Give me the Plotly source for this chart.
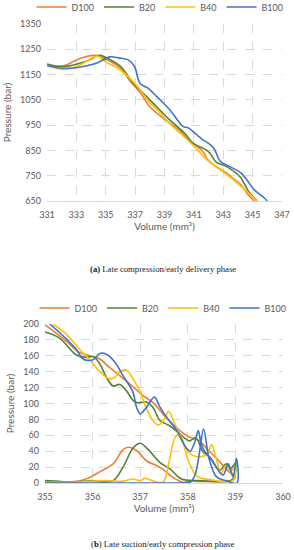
import plotly.graph_objects as go

names = ["D100", "B20", "B40", "B100"]
colors = ["#ED7D31", "#548235", "#FFC000", "#4472C4"]

# ---- (a) Late compression / early delivery ----
a_D100_v = [331.0, 331.9, 332.36, 333.05, 333.73, 334.2, 334.6, 335.3, 336.0, 336.65, 337.4, 338.0, 339.37, 340.1, 340.73, 341.0, 341.7, 341.87, 342.5, 343.23, 343.5, 344.2, 344.6, 345.1]
a_D100_p = [1189, 1183, 1189, 1209, 1222, 1226, 1220, 1203, 1176, 1125, 1075, 1023, 957, 925, 885, 876, 839, 818, 787, 760, 747, 714, 682, 650]
a_B20_v = [331.0, 331.7, 332.36, 333.3, 333.95, 334.4, 334.64, 335.3, 336.0, 336.87, 337.4, 338.24, 339.37, 340.4, 340.96, 341.8, 342.1, 342.5, 343.23, 344.14, 344.7, 345.3]
a_B20_p = [1192, 1183, 1183, 1196, 1209, 1225, 1226, 1209, 1183, 1116, 1085, 1036, 970, 916, 878, 853, 839, 805, 786, 746, 690, 650]
a_B40_v = [331.0, 332.1, 333.05, 333.7, 334.3, 334.5, 335.1, 335.8, 336.5, 337.2, 337.9, 338.6, 339.37, 339.8, 340.8, 341.9, 342.8, 343.7, 344.6, 345.3]
a_B40_p = [1187, 1170, 1183, 1203, 1222, 1222, 1196, 1176, 1143, 1100, 1045, 1005, 955, 932, 879, 813, 774, 734, 688, 650]
a_B100_v = [331.0, 331.9, 332.8, 333.7, 334.4, 334.85, 335.3, 335.9, 336.5, 336.95, 337.33, 337.9, 338.47, 339.37, 340.28, 340.6, 341.2, 341.64, 341.9, 342.36, 342.8, 343.46, 344.2, 344.6, 345.1, 345.8, 346.0]
a_B100_p = [1185, 1176, 1176, 1185, 1196, 1209, 1220, 1216, 1209, 1183, 1116, 1095, 1063, 1010, 944, 940, 912, 891, 882, 859, 807, 786, 761, 734, 695, 662, 650]

# ---- (b) Late suction / early compression ----
b_D100_v = [355.0, 355.2, 355.45, 355.7, 355.94, 356.15, 356.36, 356.57, 356.85, 357.06, 357.27, 357.55, 357.83, 358.03, 358.24, 358.45, 358.65, 358.85, 359.0,
            358.9, 358.5, 358.0, 357.9, 357.69, 357.41, 357.13, 356.92, 356.75, 356.64, 356.43, 356.15, 355.9, 355.66, 355.3, 355.0]
b_D100_p = [199, 190, 178, 165, 160, 156, 145, 135, 121, 110, 101, 82, 66, 58, 53, 40, 28, 15, 8,
            3, 2, 2, 1, 7, 20, 28, 41, 45, 42, 24, 14, 6, 2, 1, 2]
b_B20_v = [355.0, 355.31, 355.66, 355.87, 356.01, 356.15, 356.29, 356.43, 356.57, 356.71, 356.85, 356.95, 357.13, 357.27, 357.41, 357.62, 357.83, 358.03, 358.17, 358.31, 358.46, 358.67, 358.81, 358.9, 359.0,
           358.95, 358.8, 358.2, 357.87, 357.62, 357.41, 357.2, 357.0, 356.85, 356.64, 356.43, 356.1, 356.0, 355.6, 355.3, 355.0]
b_B20_p = [190, 182, 161, 158, 159, 150, 133, 122, 124, 116, 104, 101, 102, 95, 79, 72, 62, 53, 57, 40, 32, 16, 24, 18, 25,
           5, 2, 3, 5, 18, 26, 40, 50, 44, 20, 3, 2, 3, 1, 2, 3]
b_B40_v = [355.17, 355.45, 355.73, 355.94, 356.15, 356.36, 356.47, 356.57, 356.71, 356.85, 357.0, 357.1, 357.25, 357.38, 357.5, 357.6, 357.7, 357.85, 358.0, 358.2, 358.4, 358.5, 358.6, 358.7, 358.8, 358.9, 359.0,
           358.95, 358.7, 358.5, 358.2, 358.0, 357.83, 357.73, 357.6, 357.48, 357.2, 357.1, 357.0, 356.85, 356.6, 356.3, 355.9, 355.5, 355.0]
b_B40_p = [200, 187, 168, 155, 140, 131, 133, 140, 142, 131, 115, 98, 80, 73, 80, 90, 78, 56, 40, 33, 36, 48, 30, 12, 22, 15, 20,
           3, 2, 4, 8, 30, 62, 57, 25, 1, 4, 6, 3, 5, 2, 3, 2, 1, 1]
b_B100_v = [355.1, 355.38, 355.66, 355.8, 356.01, 356.15, 356.29, 356.47, 356.64, 356.85, 356.92, 357.0, 357.13, 357.3, 357.41, 357.55, 357.76, 357.97, 358.05, 358.15, 358.22, 358.27, 358.35, 358.5, 358.6, 358.74, 358.85, 358.95, 359.02,
            359.03, 358.8, 358.6, 358.45, 358.33, 358.25, 358.15, 358.05, 357.8, 357.0, 356.0, 355.0]
b_B100_p = [200, 185, 168, 156, 155, 163, 162, 152, 135, 114, 96, 87, 95, 108, 96, 83, 67, 44, 40, 52, 66, 52, 40, 30, 20, 10, 24, 8, 31,
            0, 3, 8, 30, 68, 40, 10, 1, 0, 0, 0, 0]

a_sets = [(a_D100_v, a_D100_p), (a_B20_v, a_B20_p), (a_B40_v, a_B40_p), (a_B100_v, a_B100_p)]
b_sets = [(b_D100_v, b_D100_p), (b_B20_v, b_B20_p), (b_B40_v, b_B40_p), (b_B100_v, b_B100_p)]

fig = go.Figure()
for n, c, (v, p) in zip(names, colors, a_sets):
    fig.add_trace(go.Scatter(x=v, y=p, name=n, mode="lines", line=dict(color=c, width=1.6, shape="spline"),
                             xaxis="x", yaxis="y", legend="legend"))
for n, c, (v, p) in zip(names, colors, b_sets):
    fig.add_trace(go.Scatter(x=v, y=p, name=n, mode="lines", line=dict(color=c, width=1.6, shape="spline"),
                             xaxis="x2", yaxis="y2", legend="legend2", cliponaxis=True))

W, H = 294, 550
FONT = "Lato, Noto Sans, sans-serif"
tickfont = dict(family=FONT, size=9, color="#595959")
titlefont = dict(family=FONT, size=10, color="#595959")
xgrid = dict(showgrid=True, gridcolor="#d9d9d9", griddash="dash", gridwidth=1, zeroline=False, ticks="",
             tickfont=tickfont, ticklabelstandoff=5, showline=True, linecolor="#d9d9d9")
ygrid = dict(showgrid=True, gridcolor="#d9d9d9", griddash="dash", gridwidth=1, zeroline=False, ticks="",
             tickfont=tickfont, ticklabelstandoff=5)
legfont = dict(family=FONT, size=9, color="#595959")

fig.update_layout(
    width=W, height=H, margin=dict(l=0, r=0, t=0, b=0, autoexpand=False),
    paper_bgcolor="white", plot_bgcolor="white",
    xaxis=dict(domain=[47 / W, 282 / W], range=[331, 347], tick0=331, dtick=2, anchor="y",
               title=dict(text="Volume (mm³)", font=titlefont, standoff=4), **xgrid),
    yaxis=dict(domain=[1 - 201 / H, 1 - 24 / H], range=[650, 1350], tick0=650, dtick=100, anchor="x",
               title=dict(text="Pressure (bar)", font=titlefont, standoff=6), **ygrid),
    xaxis2=dict(domain=[45 / W, 283 / W], range=[355, 360], tick0=355, dtick=1, anchor="y2",
                title=dict(text="Volume (mm³)", font=titlefont, standoff=4), **xgrid),
    yaxis2=dict(domain=[1 - 483 / H, 1 - 324 / H], range=[0, 200], tick0=0, dtick=20, anchor="x2",
                title=dict(text="Pressure (bar)", font=titlefont, standoff=6), **ygrid),
    legend=dict(orientation="h", x=160 / W, xanchor="center", y=1 - 7 / H, yanchor="middle",
                font=legfont, itemwidth=30,
                bgcolor="rgba(0,0,0,0)", tracegroupgap=0),
    legend2=dict(orientation="h", x=163 / W, xanchor="center", y=1 - 308 / H, yanchor="middle",
                 font=legfont, itemwidth=30,
                 bgcolor="rgba(0,0,0,0)", tracegroupgap=0),
    annotations=[
        dict(text="<b>(a)</b> Late compression/early delivery phase", xref="paper", yref="paper",
             x=163 / W, y=1 - 269 / H, xanchor="center", yanchor="middle", showarrow=False,
             font=dict(family="Liberation Serif, DejaVu Serif, serif", size=8.7, color="#222222")),
        dict(text="(<b>b</b>) Late suction/early compression phase", xref="paper", yref="paper",
             x=163 / W, y=1 - 544 / H, xanchor="center", yanchor="middle", showarrow=False,
             font=dict(family="Liberation Serif, DejaVu Serif, serif", size=8.7, color="#222222")),
    ],
)

fig.write_html("out.html", config={"displayModeBar": False},
               post_script="document.body.style.margin='0';document.body.style.padding='0';")
